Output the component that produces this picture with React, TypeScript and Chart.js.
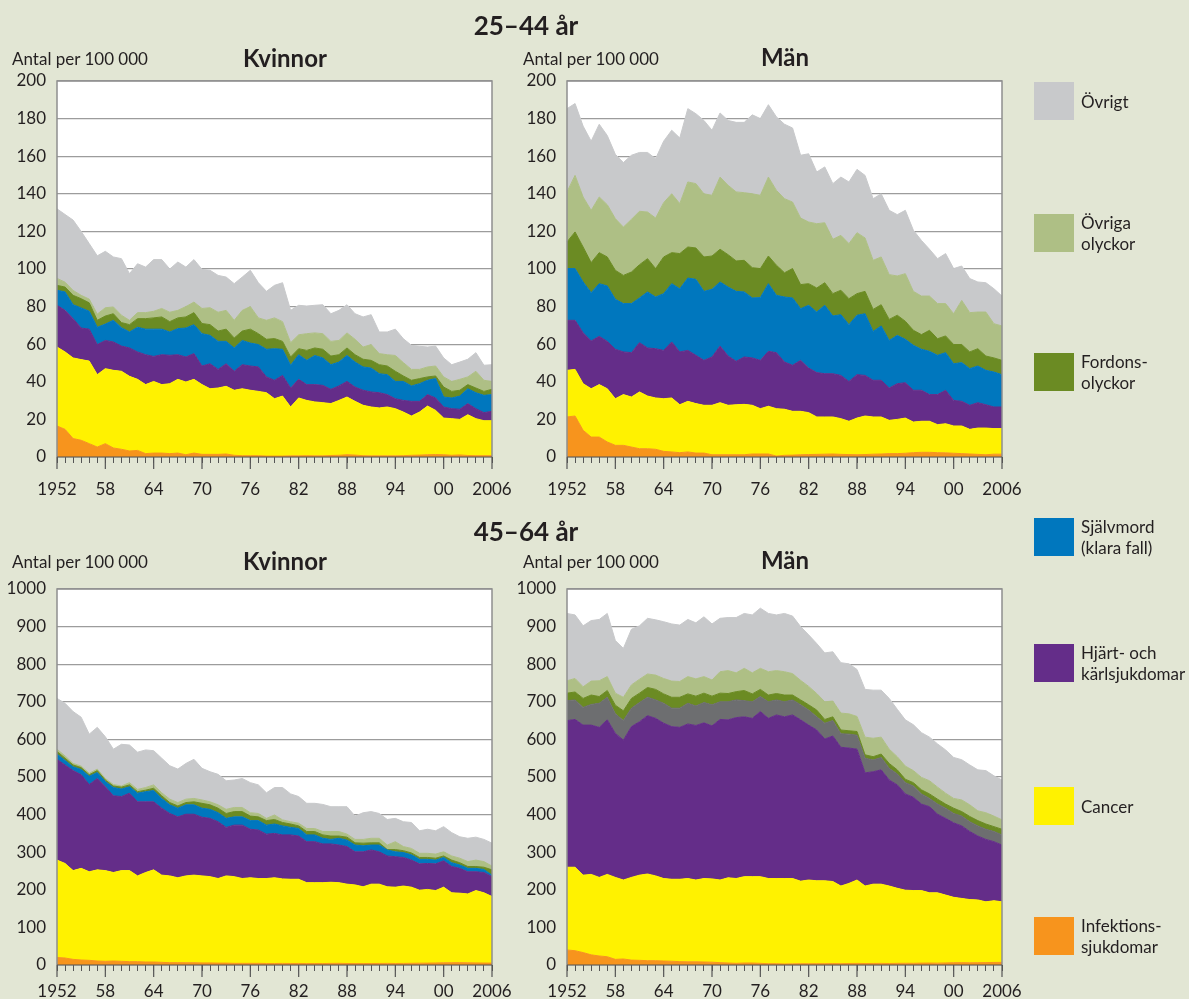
import React, { useEffect, useRef } from 'react';
import { Chart, registerables } from 'chart.js';

Chart.register(...registerables);

// ---------- categories ----------
const years = [
  '1952', '1953', '1954', '1955', '1956', '1957', '1958', '1959', '1960', '1961',
  '1962', '1963', '1964', '1965', '1966', '1967', '1968', '1969', '1970', '1971',
  '1972', '1973', '1974', '1975', '1976', '1977', '1978', '1979', '1980', '1981',
  '1982', '1983', '1984', '1985', '1986', '1987', '1988', '1989', '1990', '1991',
  '1992', '1993', '1994', '1995', '1996', '1997', '1998', '1999', '2000', '2001',
  '2002', '2003', '2004', '2005', '2006',
];
const tickYears = ['1952', '1958', '1964', '1970', '1976', '1982', '1988', '1994', '2000', '2006'];
const tickTexts = ['1952', '58', '64', '70', '76', '82', '88', '94', '00', '2006'];

// ---------- values: upper edge of each stacked band (antal per 100 000) ----------
// 25–44 år, Kvinnor
const k25_infektion = [16.5, 14.7, 9.8, 8.9, 7.1, 5.3, 7.1, 4.8, 4.1, 3.2, 3.5, 1.8, 2.1, 2.1, 1.8, 2.1, 1.2, 2.1, 1.4, 1.4, 1.4, 1.6, 0.9, 0.7, 0.7, 0.7, 0.5, 0.5, 0.5, 0.6, 0.6, 0.7, 0.6, 0.6, 0.8, 0.9, 1.2, 1.0, 0.7, 0.6, 0.6, 0.6, 0.6, 0.7, 0.9, 1.0, 1.2, 1.3, 1.2, 0.9, 1.1, 0.8, 0.7, 0.7, 0.7];
const k25_cancer = [58.5, 55.9, 52.7, 51.8, 51.0, 43.8, 47.0, 46.1, 45.6, 42.9, 41.3, 38.5, 40.2, 38.5, 39.0, 41.3, 39.9, 41.3, 38.5, 36.3, 36.7, 37.6, 35.5, 36.3, 35.5, 34.9, 34.2, 31.0, 32.4, 26.6, 31.4, 30.1, 29.3, 28.9, 28.4, 30.1, 31.9, 29.6, 27.5, 26.6, 26.1, 26.6, 25.7, 23.9, 21.8, 23.9, 27.1, 24.8, 20.7, 20.4, 20.0, 22.5, 20.4, 19.3, 19.3];
const k25_hjart = [80.7, 78.0, 73.6, 68.6, 68.0, 59.8, 62.0, 61.2, 59.0, 58.0, 55.9, 54.4, 53.5, 54.4, 54.1, 54.4, 53.2, 55.0, 48.4, 49.6, 46.6, 49.6, 45.6, 49.1, 48.4, 47.9, 42.6, 40.8, 43.4, 36.7, 41.3, 38.5, 38.5, 38.1, 36.0, 37.8, 40.2, 37.2, 35.5, 34.6, 34.2, 33.2, 31.0, 30.1, 29.6, 29.6, 33.2, 31.4, 26.6, 25.7, 25.4, 28.4, 25.7, 23.6, 24.3];
const k25_sjalvmord = [88.7, 87.8, 81.0, 79.3, 77.5, 69.0, 70.7, 72.7, 68.8, 66.5, 69.0, 68.0, 68.0, 68.0, 66.5, 68.3, 68.6, 70.4, 65.6, 64.7, 61.5, 61.5, 58.0, 62.0, 60.6, 59.8, 57.3, 57.6, 57.3, 48.8, 54.4, 51.4, 54.0, 52.7, 49.1, 50.5, 54.0, 50.5, 47.9, 47.3, 44.3, 43.8, 40.2, 40.2, 37.8, 39.0, 40.8, 41.7, 31.9, 31.4, 32.4, 36.3, 34.2, 32.8, 33.2];
const k25_fordons = [91.3, 90.4, 86.0, 84.2, 82.0, 72.7, 75.0, 76.2, 71.5, 70.4, 73.6, 73.6, 74.0, 74.5, 72.0, 74.0, 74.5, 76.8, 71.0, 70.4, 67.0, 68.0, 63.3, 67.0, 68.0, 65.6, 62.6, 63.0, 61.5, 53.2, 57.6, 56.7, 58.0, 57.3, 53.7, 54.4, 58.0, 54.4, 52.0, 51.4, 49.1, 48.4, 45.6, 43.1, 40.8, 41.7, 42.6, 43.1, 37.2, 34.9, 35.5, 38.5, 36.7, 34.9, 36.0];
const k25_ovrigaOlyckor = [95.0, 93.0, 88.6, 86.0, 84.0, 76.0, 79.4, 79.8, 75.4, 72.7, 76.8, 76.8, 77.5, 79.0, 77.0, 78.0, 80.0, 82.4, 79.0, 79.4, 77.0, 78.0, 72.7, 78.0, 80.0, 74.0, 72.7, 74.0, 72.0, 60.8, 65.0, 65.6, 66.0, 65.6, 61.5, 62.0, 66.0, 62.6, 58.5, 59.8, 55.0, 54.4, 54.0, 50.2, 46.6, 46.6, 47.9, 48.4, 42.6, 40.2, 41.3, 42.6, 45.6, 40.8, 40.2];
const k25_ovrigt = [132, 129, 126, 120, 113.5, 107, 109.4, 106.4, 105.5, 97.5, 102.8, 101, 105, 105, 100, 103.7, 101, 105, 99.8, 99.3, 96.6, 95.7, 92.2, 95.7, 99.3, 92.7, 88.1, 91.3, 92.7, 78.0, 80.7, 80.3, 80.7, 81.0, 76.2, 78.0, 81.0, 76.2, 74.5, 75.7, 66.5, 66.5, 68.0, 62.9, 59.4, 58.9, 58.5, 59.0, 52.7, 49.1, 50.5, 52.0, 55.5, 48.8, 49.1];

// 25–44 år, Män
const m25_infektion = [21.3, 21.8, 14.2, 10.6, 10.6, 8.0, 6.2, 6.2, 5.3, 4.4, 4.4, 4.1, 3.0, 2.7, 2.3, 2.7, 2.1, 2.1, 1.2, 1.2, 1.2, 1.2, 1.2, 1.6, 1.6, 1.6, 0.5, 0.9, 1.0, 1.2, 1.3, 1.4, 1.5, 1.6, 1.4, 1.3, 1.2, 1.3, 1.5, 1.6, 1.8, 1.8, 2.0, 2.3, 2.5, 2.5, 2.3, 2.2, 2.0, 1.8, 1.6, 1.4, 1.2, 1.5, 1.5];
const m25_cancer = [46.1, 46.6, 39.0, 36.3, 38.5, 36.3, 31.0, 33.2, 31.9, 34.6, 32.4, 31.4, 31.0, 31.4, 27.8, 29.6, 28.4, 27.5, 27.5, 28.9, 27.5, 27.8, 28.0, 27.5, 25.7, 27.0, 25.7, 25.4, 24.3, 24.3, 23.6, 21.3, 21.3, 21.3, 20.4, 19.0, 20.7, 21.8, 21.3, 21.3, 19.5, 20.0, 20.7, 18.6, 19.0, 19.0, 17.2, 17.7, 16.5, 16.5, 14.7, 15.4, 15.4, 15.1, 15.1];
const m25_hjart = [72.7, 72.7, 66.1, 61.7, 64.2, 61.5, 57.3, 55.9, 55.5, 60.8, 58.0, 57.6, 56.7, 61.2, 55.9, 56.7, 54.1, 51.4, 53.2, 59.0, 53.7, 50.9, 53.2, 52.7, 51.4, 56.2, 55.5, 50.5, 48.8, 51.4, 47.3, 44.9, 44.3, 44.3, 43.4, 40.2, 43.8, 43.4, 40.8, 40.8, 36.7, 39.0, 39.5, 35.5, 35.5, 33.2, 33.2, 35.5, 30.1, 29.6, 27.5, 28.9, 27.8, 26.6, 26.6];
const m25_sjalvmord = [100.2, 100.2, 93.1, 87.4, 92.2, 91.0, 83.9, 81.6, 81.6, 84.6, 87.8, 85.1, 86.9, 92.2, 89.5, 95.2, 94.5, 88.1, 89.2, 93.1, 90.4, 88.1, 87.8, 84.6, 84.8, 92.2, 86.0, 85.1, 84.6, 78.9, 80.7, 77.1, 80.7, 75.0, 75.7, 70.4, 75.4, 76.2, 66.8, 69.7, 62.0, 64.7, 62.6, 59.4, 57.3, 56.2, 54.1, 55.5, 49.6, 50.2, 47.0, 48.4, 46.1, 45.2, 43.8];
const m25_fordons = [114.4, 119.7, 111.7, 103.4, 108.7, 106.4, 99.3, 96.6, 98.4, 102.3, 105.5, 100.2, 106.4, 108.7, 108.2, 111.7, 111.2, 106.4, 106.9, 110.5, 107.6, 104.3, 104.6, 100.7, 100.2, 106.9, 102.0, 98.0, 100.2, 91.7, 92.2, 89.9, 92.7, 86.9, 88.7, 84.2, 86.9, 88.1, 78.5, 81.0, 73.2, 75.4, 72.2, 67.4, 65.1, 67.4, 62.9, 64.4, 59.8, 59.8, 55.9, 57.6, 53.7, 52.7, 51.4];
const m25_ovrigaOlyckor = [141.0, 149.8, 138.3, 131.2, 138.3, 134.2, 126.8, 122.3, 126.4, 130.7, 130.3, 127.1, 135.3, 140.0, 134.8, 146.3, 145.4, 140.0, 139.2, 148.9, 144.5, 141.0, 140.6, 140.0, 139.2, 148.9, 141.8, 137.4, 135.6, 127.1, 125.0, 124.1, 124.6, 115.8, 117.9, 113.5, 119.3, 116.5, 104.6, 106.4, 97.0, 96.3, 97.5, 88.1, 85.6, 85.6, 81.6, 81.6, 76.2, 83.3, 76.8, 77.1, 77.1, 70.9, 69.7];
const m25_ovrigt = [185.3, 188.0, 176.0, 168.0, 177.0, 171.0, 161.0, 156.6, 160.5, 162.0, 162.0, 158.7, 168.0, 173.8, 169.7, 185.3, 182.6, 179.0, 173.8, 183.0, 179.0, 178.0, 178.0, 182.0, 180.0, 187.4, 180.9, 177.0, 175.0, 160.5, 161.3, 151.6, 154.3, 145.4, 148.9, 146.3, 153.0, 149.8, 137.4, 140.0, 131.2, 128.9, 131.2, 120.6, 115.2, 110.5, 105.5, 108.2, 100.2, 101.6, 94.9, 93.1, 92.7, 89.5, 85.6];

// 45–64 år, Kvinnor
const k45_infektion = [20, 18.6, 15, 13.3, 12.4, 10.6, 9.8, 10.6, 9.8, 8.9, 8.9, 8, 8, 7.1, 6.2, 6.2, 6, 6, 5.5, 5.5, 5, 5, 4.4, 4.4, 4.4, 4.4, 4, 4, 4.2, 4.0, 4.1, 3.8, 4.0, 3.9, 4.2, 4.4, 4.0, 3.8, 3.9, 4.0, 4.1, 4.3, 4.0, 4.2, 4.5, 4.8, 5.0, 5.4, 5.8, 6.0, 6.2, 5.8, 5.5, 5.2, 5.0];
const k45_cancer = [279, 270, 251, 257, 248, 253, 251, 246, 251, 251, 237, 246, 253, 239, 237, 232, 237, 239, 237, 235, 230, 237, 235, 230, 232, 230, 230, 232, 229, 228, 228, 219, 219, 219, 220, 219, 215, 213, 208, 215, 215, 208, 207, 210, 207, 199, 201, 198, 207, 192, 191, 189, 198, 192, 182];
const k45_hjart = [547, 532, 517, 506, 480, 496, 474, 450, 448, 457, 434, 434, 434, 417, 403, 394, 401, 401, 393, 390, 381, 366, 372, 372, 361, 359, 348, 350, 346, 346, 343, 328, 328, 322, 322, 319, 315, 301, 301, 306, 301, 290, 288, 286, 279, 269, 270, 269, 277, 262, 257, 248, 248, 246, 235];
const k45_sjalvmord = [561, 544, 527, 520, 502, 512, 488, 472, 468, 474, 457, 461, 464, 443, 426, 417, 426, 426, 417, 414, 405, 390, 394, 394, 384, 384, 372, 375, 370, 366, 363, 346, 346, 337, 334, 337, 332, 319, 317, 319, 319, 306, 301, 299, 293, 281, 281, 279, 286, 272, 266, 257, 257, 254, 239];
const k45_fordons = [568, 550, 532, 525, 506, 517, 492, 476, 473, 479, 461, 465, 470, 450, 432, 423, 432, 434, 430, 426, 417, 403, 408, 408, 396, 394, 384, 387, 379, 375, 370, 355, 355, 346, 343, 343, 340, 325, 324, 325, 325, 307, 307, 304, 298, 286, 286, 284, 290, 279, 272, 262, 262, 260, 253];
const k45_ovrigaOlyckor = [574, 556, 536, 529, 510, 521, 496, 480, 476, 485, 467, 472, 479, 458, 441, 432, 441, 443, 439, 434, 426, 414, 419, 419, 405, 403, 390, 399, 386, 381, 377, 363, 363, 355, 355, 355, 348, 334, 334, 337, 337, 319, 328, 315, 310, 297, 297, 295, 301, 290, 284, 275, 279, 275, 263];
const k45_ovrigt = [709, 696, 674, 659, 614, 632, 607, 574, 587, 585, 566, 572, 570, 550, 530, 521, 536, 547, 523, 514, 507, 490, 492, 496, 485, 479, 458, 472, 472, 455, 448, 430, 430, 427, 421, 421, 421, 396, 405, 408, 403, 387, 390, 381, 379, 357, 361, 357, 368, 352, 341, 337, 340, 334, 324];

// 45–64 år, Män
const m45_infektion = [40, 38, 33, 27, 24, 22, 15, 16, 13, 12.4, 11.5, 11.5, 10.6, 10, 8.9, 8.5, 8.5, 8, 7.5, 6.2, 5.3, 4.4, 5.3, 5.3, 4.4, 3.5, 3.5, 2.7, 3.0, 3.5, 3.4, 3.6, 3.5, 3.8, 3.6, 4.0, 4.2, 3.9, 4.1, 4.3, 4.0, 4.4, 4.6, 4.5, 5.0, 5.2, 4.9, 5.5, 6.0, 6.2, 5.8, 6.1, 6.4, 6.8, 7.0];
const m45_cancer = [260, 260, 239, 241, 233, 241, 233, 226, 233, 239, 242, 237, 230, 228, 228, 230, 226, 230, 229, 226, 232, 230, 235, 235, 235, 230, 230, 230, 230, 223, 226, 224, 224, 222, 210, 217, 226, 210, 215, 215, 210, 204, 199, 198, 198, 192, 192, 186, 180, 177, 174, 173, 168, 171, 168];
const m45_hjart = [650, 653, 638, 638, 632, 652, 616, 598, 634, 647, 663, 656, 643, 634, 632, 641, 637, 644, 636, 653, 652, 658, 660, 656, 674, 656, 665, 660, 665, 652, 638, 625, 601, 609, 579, 577, 574, 511, 514, 519, 492, 479, 455, 446, 428, 421, 401, 390, 378, 370, 355, 343, 334, 328, 319];
const m45_sjalvmord = [703, 705, 685, 693, 696, 712, 668, 650, 683, 698, 712, 705, 696, 683, 683, 696, 689, 698, 692, 700, 700, 705, 703, 700, 714, 700, 705, 700, 705, 692, 678, 660, 643, 650, 615, 614, 611, 550, 545, 552, 523, 508, 485, 476, 455, 443, 428, 417, 403, 396, 381, 370, 361, 355, 346];
const m45_fordons = [723, 726, 709, 718, 714, 730, 691, 676, 709, 723, 738, 733, 721, 712, 712, 721, 715, 723, 715, 723, 722, 727, 730, 721, 733, 718, 722, 718, 718, 705, 692, 678, 653, 660, 625, 623, 621, 559, 554, 561, 536, 519, 494, 485, 466, 455, 441, 428, 417, 408, 395, 384, 375, 368, 361];
const m45_ovrigaOlyckor = [756, 762, 740, 755, 756, 767, 723, 712, 745, 760, 774, 771, 762, 755, 754, 767, 761, 767, 758, 780, 783, 777, 789, 777, 789, 780, 783, 780, 775, 757, 741, 722, 700, 702, 670, 668, 661, 606, 603, 606, 574, 554, 529, 517, 499, 490, 473, 457, 443, 439, 426, 410, 405, 396, 386];
const m45_ovrigt = [935, 931, 902, 916, 919, 935, 863, 842, 893, 902, 922, 918, 913, 907, 904, 919, 910, 926, 907, 922, 924, 924, 935, 931, 949, 935, 931, 935, 928, 900, 878, 855, 830, 833, 804, 801, 786, 733, 731, 731, 709, 680, 652, 639, 618, 606, 588, 572, 552, 546, 532, 519, 517, 503, 492];

// ---------- styling ----------
const FONT = 'Lato, "Open Sans", "DejaVu Sans", sans-serif';
const TEXT = '#231f20';
const BG = '#e2e6d4';
const W = 1189;
const H = 999;

const C = {
  ovrigt: '#c8c9cb',
  ovrigaOlyckor: '#aebf85',
  fordons: '#6b8b23',
  sjalvmord: '#0077be',
  hjart: '#642d89',
  cancer: '#fff200',
  infektion: '#f7941d',
  morkgra: '#6d6e70',
};

type Band = { label: string; color: string; data: number[] };
type PanelCfg = {
  left: number; right: number; top: number; bottom: number;
  yMax: number; yStep: number; xPad: number; bands: Band[];
};

const bands = (inf: number[], can: number[], hj: number[], sj: number[], fo: number[], ol: number[], ov: number[], sjColor: string): Band[] => [
  { label: 'Infektionssjukdomar', color: C.infektion, data: inf },
  { label: 'Cancer', color: C.cancer, data: can },
  { label: 'Hjärt- och kärlsjukdomar', color: C.hjart, data: hj },
  { label: 'Självmord (klara fall)', color: sjColor, data: sj },
  { label: 'Fordonsolyckor', color: C.fordons, data: fo },
  { label: 'Övriga olyckor', color: C.ovrigaOlyckor, data: ol },
  { label: 'Övrigt', color: C.ovrigt, data: ov },
];

const panels: PanelCfg[] = [
  { left: 57, right: 492, top: 81, bottom: 457, yMax: 200, yStep: 20, xPad: 16,
    bands: bands(k25_infektion, k25_cancer, k25_hjart, k25_sjalvmord, k25_fordons, k25_ovrigaOlyckor, k25_ovrigt, C.sjalvmord) },
  { left: 567, right: 1002, top: 81, bottom: 457, yMax: 200, yStep: 20, xPad: 16,
    bands: bands(m25_infektion, m25_cancer, m25_hjart, m25_sjalvmord, m25_fordons, m25_ovrigaOlyckor, m25_ovrigt, C.sjalvmord) },
  { left: 57, right: 492, top: 589, bottom: 965, yMax: 1000, yStep: 100, xPad: 10,
    bands: bands(k45_infektion, k45_cancer, k45_hjart, k45_sjalvmord, k45_fordons, k45_ovrigaOlyckor, k45_ovrigt, C.sjalvmord) },
  { left: 567, right: 1002, top: 589, bottom: 965, yMax: 1000, yStep: 100, xPad: 10,
    bands: bands(m45_infektion, m45_cancer, m45_hjart, m45_sjalvmord, m45_fordons, m45_ovrigaOlyckor, m45_ovrigt, C.morkgra) },
];

const Y_AXIS_W = 60;
const X_AXIS_H = 45;

const decorPlugin = {
  id: 'panelDecor',
  beforeDraw(chart: any) {
    const { ctx, chartArea: a } = chart;
    ctx.save();
    ctx.fillStyle = '#ffffff';
    ctx.fillRect(a.left, a.top, a.right - a.left, a.bottom - a.top);
    ctx.restore();
  },
  afterDatasetsDraw(chart: any) {
    const { ctx, chartArea: a, scales } = chart;
    ctx.save();
    ctx.strokeStyle = '#8f8f8f';
    ctx.lineWidth = 1.5;
    ctx.beginPath();
    ctx.moveTo(a.left, a.bottom);
    ctx.lineTo(a.left, a.top);
    ctx.lineTo(a.right, a.top);
    ctx.lineTo(a.right, a.bottom);
    ctx.stroke();
    ctx.strokeStyle = '#555555';
    ctx.lineWidth = 1.2;
    ctx.beginPath();
    ctx.moveTo(a.left, a.bottom);
    ctx.lineTo(a.right, a.bottom);
    const xs = scales.x;
    tickYears.forEach((y) => {
      const px = xs.getPixelForTick(years.indexOf(y));
      ctx.moveTo(px, a.bottom);
      ctx.lineTo(px, a.bottom + 12);
    });
    ctx.stroke();
    ctx.restore();
  },
};

function Panel({ cfg }: { cfg: PanelCfg }) {
  const ref = useRef<HTMLCanvasElement>(null);
  useEffect(() => {
    if (!ref.current) return;
    const chart = new Chart(ref.current, {
      type: 'line',
      data: {
        labels: years,
        datasets: cfg.bands.map((b, k) => ({
          label: b.label,
          data: b.data,
          backgroundColor: b.color,
          borderColor: b.color,
          borderWidth: 1,
          pointRadius: 0,
          pointHoverRadius: 0,
          tension: 0,
          fill: k === 0 ? 'origin' : '-1',
        })),
      },
      options: {
        responsive: false,
        animation: false,
        devicePixelRatio: 1,
        events: [],
        layout: {
          autoPadding: false,
          padding: {
            left: cfg.left - Y_AXIS_W,
            right: W - cfg.right,
            top: cfg.top,
            bottom: H - cfg.bottom - X_AXIS_H,
          },
        },
        plugins: {
          legend: { display: false },
          tooltip: { enabled: false },
        },
        scales: {
          x: {
            type: 'category',
            offset: false,
            grid: { drawOnChartArea: false, drawTicks: true, tickLength: 6, tickColor: '#555555', lineWidth: 1 },
            border: { display: false },
            ticks: {
              autoSkip: false,
              maxRotation: 0,
              minRotation: 0,
              padding: cfg.xPad,
              color: TEXT,
              font: { family: FONT, size: 17 },
              callback: (_v: any, i: number) => {
                const k = tickYears.indexOf(years[i]);
                return k >= 0 ? tickTexts[k] : '';
              },
            },
            afterFit: (s: any) => { s.height = X_AXIS_H; },
          },
          y: {
            min: 0,
            max: cfg.yMax,
            grid: { color: '#9c9c9c', lineWidth: 1.3, drawTicks: false },
            border: { display: false },
            ticks: {
              stepSize: cfg.yStep,
              padding: 11,
              color: TEXT,
              font: { family: FONT, size: 17 },
              callback: (v: any) => String(v),
            },
            afterFit: (s: any) => { s.width = Y_AXIS_W; },
          },
        },
      },
      plugins: [decorPlugin],
    } as any);
    return () => chart.destroy();
  }, [cfg]);
  return (
    <canvas
      ref={ref}
      width={W}
      height={H}
      style={{ position: 'absolute', left: 0, top: 0, width: W, height: H }}
    />
  );
}

type Txt = { text: string; x: number; y: number; size: number; bold?: boolean; align?: 'left' | 'center' };
const texts: Txt[] = [
  { text: '25–44 år', x: 526, y: 25, size: 26, bold: true },
  { text: 'Antal per 100 000', x: 12, y: 58, size: 17, align: 'left' },
  { text: 'Kvinnor', x: 285, y: 58, size: 24, bold: true },
  { text: 'Antal per 100 000', x: 523, y: 58, size: 17, align: 'left' },
  { text: 'Män', x: 785, y: 57, size: 24, bold: true },
  { text: '45–64 år', x: 526, y: 531, size: 26, bold: true },
  { text: 'Antal per 100 000', x: 12, y: 561, size: 17, align: 'left' },
  { text: 'Kvinnor', x: 285, y: 561, size: 24, bold: true },
  { text: 'Antal per 100 000', x: 523, y: 561, size: 17, align: 'left' },
  { text: 'Män', x: 785, y: 560, size: 24, bold: true },
];

const legendLabels = [
  ['Övrigt'],
  ['Övriga', 'olyckor'],
  ['Fordons-', 'olyckor'],
  ['Självmord', '(klara fall)'],
  ['Hjärt- och', 'kärlsjukdomar'],
  ['Cancer'],
  ['Infektions-', 'sjukdomar'],
];
const legendColors = [C.ovrigt, C.ovrigaOlyckor, C.fordons, C.sjalvmord, C.hjart, C.cancer, C.infektion];
const legendTops = [82, 214, 353, 518, 644, 787, 917];

export default function App() {
  return (
    <div style={{ position: 'absolute', left: 0, top: 0, width: W, height: H, background: BG, overflow: 'hidden', fontFamily: FONT, color: TEXT }}>
      {panels.map((p, i) => <Panel key={i} cfg={p} />)}
      {texts.map((t, i) => (
        <div
          key={i}
          style={{
            position: 'absolute',
            left: t.x,
            top: t.y,
            transform: t.align === 'left' ? 'translate(0,-50%)' : 'translate(-50%,-50%)',
            fontSize: t.size,
            fontWeight: t.bold ? 700 : 400,
            whiteSpace: 'nowrap',
            lineHeight: 1,
          }}
        >
          {t.text}
        </div>
      ))}
      {legendLabels.map((lines, i) => (
        <React.Fragment key={i}>
          <div style={{ position: 'absolute', left: 1034, top: legendTops[i], width: 40, height: 38, background: legendColors[i] }} />
          <div
            style={{
              position: 'absolute',
              left: 1081,
              top: legendTops[i] + 19,
              transform: 'translateY(-50%)',
              fontSize: 17,
              lineHeight: '21px',
              whiteSpace: 'nowrap',
            }}
          >
            {lines.map((l, j) => <div key={j}>{l}</div>)}
          </div>
        </React.Fragment>
      ))}
    </div>
  );
}
